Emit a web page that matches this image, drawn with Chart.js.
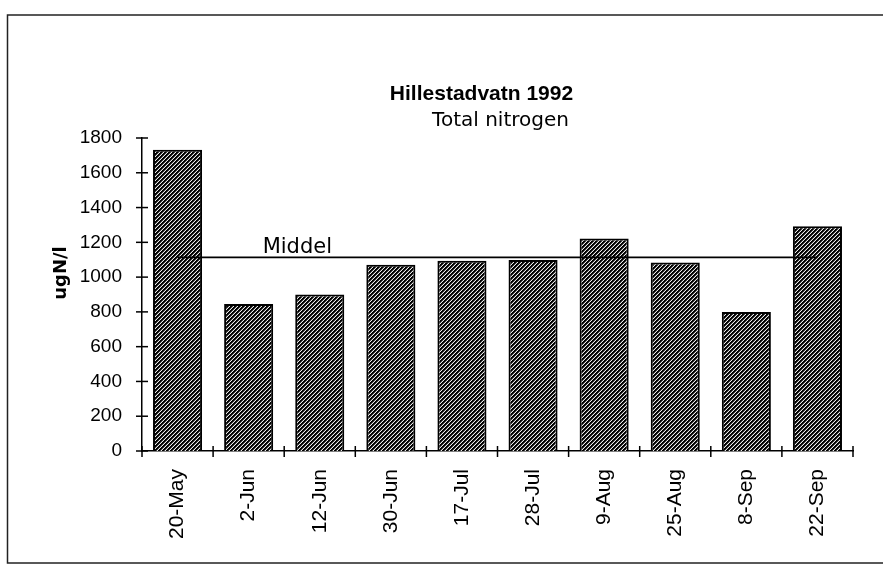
<!DOCTYPE html>
<html>
<head>
<meta charset="utf-8">
<script src="https://cdn.jsdelivr.net/npm/chart.js@4"></script>
<style>
  html, body { margin: 0; padding: 0; background: #fff; }
  #wrap { width: 883px; height: 566px; }
</style>
</head>
<body>
<div id="wrap"><canvas id="chart"></canvas></div>
<script>
// Hillestadvatn 1992, total nitrogen (ugN/l) per sampling date
const labels = ["20-May", "2-Jun", "12-Jun", "30-Jun", "17-Jul", "28-Jul", "9-Aug", "25-Aug", "8-Sep", "22-Sep"];
const totalN = [1733, 845, 900, 1071, 1094, 1098, 1222, 1084, 800, 1293];
const middel = [1114, 1114, 1114, 1114, 1114, 1114, 1114, 1114, 1114, 1114];
const yTicks = [0, 200, 400, 600, 800, 1000, 1200, 1400, 1600, 1800];

const canvas = document.getElementById("chart");
const ctx = canvas.getContext("2d");

// diagonal "////" hatch like the old printed bars
function hatchPattern() {
  const c = document.createElement("canvas");
  c.width = 4;
  c.height = 4;
  const g = c.getContext("2d");
  const img = g.createImageData(4, 4);
  for (let y = 0; y < 4; y++) {
    for (let x = 0; x < 4; x++) {
      const k = (x + y) % 4;
      const v = k < 2 ? 0 : k === 2 ? 70 : 235;
      const i = (y * 4 + x) * 4;
      img.data[i] = img.data[i + 1] = img.data[i + 2] = v;
      img.data[i + 3] = 255;
    }
  }
  g.putImageData(img, 0, 0);
  return ctx.createPattern(c, "repeat");
}

function line(c, x1, y1, x2, y2) {
  c.beginPath();
  c.moveTo(x1, y1);
  c.lineTo(x2, y2);
  c.stroke();
}

const decor = {
  id: "decor",
  beforeDraw(chart) {
    const c = chart.ctx;
    c.save();
    c.fillStyle = "#fff";
    c.fillRect(0, 0, chart.width, chart.height);
    c.strokeStyle = "#222";
    c.lineWidth = 1.5;
    c.strokeRect(7.5, 15, 900, 548);
    c.restore();
  },
  afterDraw(chart) {
    const c = chart.ctx;
    const a = chart.chartArea;
    const { x, y } = chart.scales;
    c.save();
    c.strokeStyle = "#000";
    c.lineWidth = 1.5;

    // ticks crossing the y axis
    y.ticks.forEach((t, i) => {
      const py = y.getPixelForTick(i);
      line(c, a.left - 6, py, a.left + 6, py);
    });
    // ticks between categories, crossing the x axis
    const step = x.getPixelForValue(1) - x.getPixelForValue(0);
    for (let i = 0; i <= labels.length; i++) {
      const px = x.getPixelForValue(0) - step / 2 + i * step;
      line(c, px, a.bottom - 5, px, a.bottom + 6);
    }

    c.fillStyle = "#000";
    const cx = (a.left + a.right) / 2;
    c.textAlign = "center";
    c.textBaseline = "alphabetic";
    c.font = "bold 21px 'Liberation Sans'";
    c.fillText("Hillestadvatn 1992", cx - 16, a.top - 38);
    c.font = "20px 'DejaVu Sans'";
    c.fillText("Total nitrogen", cx + 3, a.top - 12);

    c.textAlign = "left";
    c.font = "21px 'DejaVu Sans'";
    c.fillText("Middel", x.getPixelForValue(1) + 14, y.getPixelForValue(middel[1]) - 4);

    c.translate(61, 273);
    c.rotate(-Math.PI / 2);
    c.textAlign = "center";
    c.textBaseline = "middle";
    c.font = "bold 18px 'DejaVu Sans'";
    c.fillText("ugN/l", 0, 0);
    c.restore();
  }
};

new Chart(canvas, {
  data: {
    labels,
    datasets: [
      {
        type: "line",
        label: "Middel",
        data: middel,
        borderColor: "#000",
        borderWidth: 1.8,
        pointRadius: 0,
        fill: false,
        order: 0,
      },
      {
        type: "bar",
        label: "Total nitrogen",
        data: totalN,
        backgroundColor: hatchPattern(),
        borderColor: "#000",
        borderWidth: 2,
        barPercentage: 0.69,
        categoryPercentage: 1,
        order: 1,
      },
    ],
  },
  options: {
    responsive: true,
    maintainAspectRatio: false,
    animation: false,
    layout: { padding: { top: 138, right: 30, left: 0, bottom: 0 } },
    plugins: {
      legend: { display: false },
      tooltip: { enabled: false },
    },
    scales: {
      x: {
        offset: true,
        grid: { display: false, drawTicks: false },
        border: { display: true, color: "#000", width: 1.5 },
        ticks: {
          color: "#000",
          font: { family: "Liberation Sans", size: 21 },
          minRotation: 90,
          maxRotation: 90,
          autoSkip: false,
          padding: 18,
        },
        afterFit(s) { s.height = 115; },
      },
      y: {
        min: yTicks[0],
        max: yTicks[yTicks.length - 1],
        grid: { display: false, drawTicks: false },
        border: { display: true, color: "#000", width: 1.5 },
        ticks: {
          stepSize: yTicks[1] - yTicks[0],
          color: "#000",
          font: { family: "Liberation Sans", size: 19 },
          padding: 20,
          callback: (v) => String(v),
        },
        afterFit(s) { s.width = 142; },
      },
    },
  },
  plugins: [decor],
});
</script>
</body>
</html>
